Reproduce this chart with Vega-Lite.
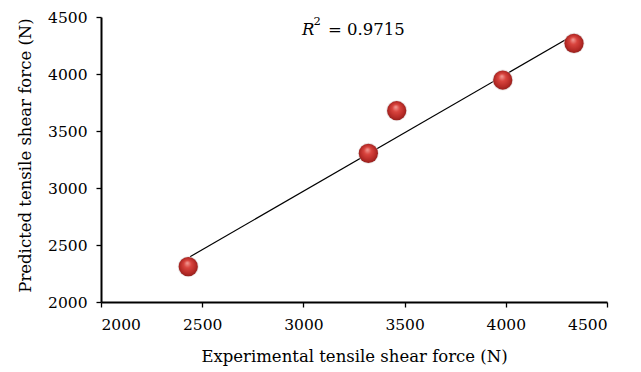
{
  "$schema": "https://vega.github.io/schema/vega-lite/v6.json",
  "width": 506,
  "height": 285,
  "autosize": {"type": "none"},
  "padding": {"left": 101, "top": 17, "right": 34, "bottom": 70},
  "background": "white",
  "config": {
    "view": {"stroke": null},
    "font": "DejaVu Serif",
    "axis": {
      "grid": false,
      "domainColor": "black",
      "domainWidth": 2,
      "tickColor": "black",
      "tickWidth": 1.3,
      "tickSize": 5,
      "labelFont": "DejaVu Serif",
      "labelFontSize": 15.5,
      "labelColor": "black",
      "titleFont": "DejaVu Serif",
      "titleFontSize": 16.5,
      "titleFontWeight": "normal",
      "titleColor": "black"
    }
  },
  "datasets": {
    "points": [
      {"experimental": 2431, "predicted": 2310},
      {"experimental": 3321, "predicted": 3304},
      {"experimental": 3461, "predicted": 3678},
      {"experimental": 3985, "predicted": 3947},
      {"experimental": 4337, "predicted": 4269}
    ],
    "fit": [
      {"experimental": 2440, "predicted": 2397},
      {"experimental": 4342, "predicted": 4348}
    ],
    "note": [{"r2": 0.9715}]
  },
  "layer": [
    {
      "data": {"name": "fit"},
      "mark": {"type": "line", "color": "black", "strokeWidth": 1.2},
      "encoding": {
        "x": {
          "field": "experimental",
          "type": "quantitative",
          "scale": {"domain": [2000, 4500], "nice": false, "zero": false},
          "axis": {
            "values": [2000, 2500, 3000, 3500, 4000, 4500],
            "format": "d",
            "labelPadding": 10,
            "title": "Experimental tensile shear force (N)",
            "titleY": 59,
            "titleBaseline": "alphabetic"
          }
        },
        "y": {
          "field": "predicted",
          "type": "quantitative",
          "scale": {"domain": [2000, 4500], "nice": false, "zero": false},
          "axis": {
            "values": [2000, 2500, 3000, 3500, 4000, 4500],
            "format": "d",
            "labelPadding": 9,
            "title": "Predicted tensile shear force (N)",
            "titleX": -71,
            "titleY": 138,
            "titleAngle": -90,
            "titleBaseline": "alphabetic"
          }
        }
      }
    },
    {
      "data": {"name": "points"},
      "mark": {
        "type": "point",
        "shape": "circle",
        "filled": true,
        "size": 440,
        "opacity": 1,
        "strokeWidth": 0,
        "fill": "#d8d0d0",
        "fillOpacity": 0.6
      },
      "encoding": {
        "x": {"field": "experimental", "type": "quantitative"},
        "y": {"field": "predicted", "type": "quantitative"}
      }
    },
    {
      "data": {"name": "points"},
      "mark": {
        "type": "point",
        "shape": "circle",
        "filled": true,
        "size": 370,
        "opacity": 1,
        "strokeWidth": 0,
        "fill": {
          "gradient": "radial",
          "x1": 0.45, "y1": 0.3, "r1": 0,
          "x2": 0.5, "y2": 0.5, "r2": 0.55,
          "stops": [
            {"offset": 0, "color": "#f3a09a"},
            {"offset": 0.35, "color": "#d9443e"},
            {"offset": 0.75, "color": "#b52a26"},
            {"offset": 1, "color": "#8a1c1a"}
          ]
        }
      },
      "encoding": {
        "x": {"field": "experimental", "type": "quantitative"},
        "y": {"field": "predicted", "type": "quantitative"}
      }
    },
    {
      "data": {"name": "note"},
      "mark": {"type": "text", "text": "R", "fontStyle": "italic", "fontSize": 16.5, "align": "left", "baseline": "alphabetic", "color": "black"},
      "encoding": {
        "x": {"datum": 2993, "type": "quantitative"},
        "y": {"datum": 4342, "type": "quantitative"}
      }
    },
    {
      "data": {"name": "note"},
      "mark": {"type": "text", "text": "2", "fontSize": 11.5, "align": "left", "baseline": "alphabetic", "color": "black"},
      "encoding": {
        "x": {"datum": 3050, "type": "quantitative"},
        "y": {"datum": 4430, "type": "quantitative"}
      }
    },
    {
      "data": {"name": "note"},
      "mark": {"type": "text", "text": "= 0.9715", "fontSize": 16.5, "align": "left", "baseline": "alphabetic", "color": "black"},
      "encoding": {
        "x": {"datum": 3121, "type": "quantitative"},
        "y": {"datum": 4342, "type": "quantitative"}
      }
    }
  ]
}
